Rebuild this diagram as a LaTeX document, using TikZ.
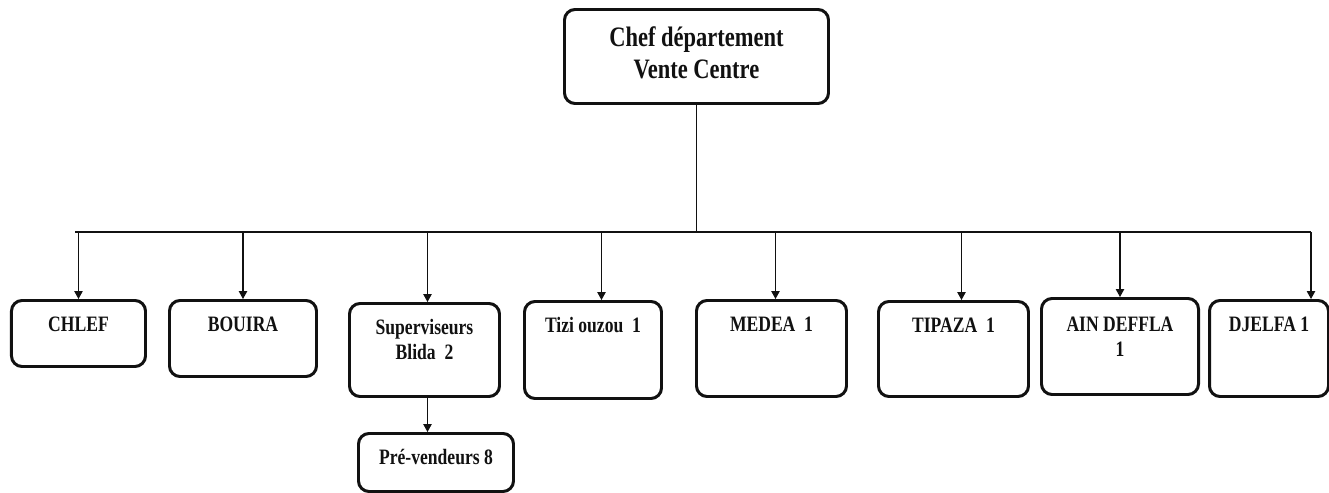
\documentclass[tikz,border=0pt]{standalone}
\usepackage{fontspec}
\setmainfont{Liberation Serif}[FakeStretch=0.8]
\usetikzlibrary{arrows.meta,positioning}
\definecolor{orgInk}{HTML}{111111}
\tikzset{
  every picture/.style={font=\bfseries, text=orgInk},
  org box/.style={draw=orgInk, line width=1.7pt, rounded corners=6pt,
    fill=white, align=center, anchor=north west, inner xsep=2pt,
    inner ysep=0pt, text height=0.62cm},
  org small/.style={org box, font=\bfseries\fontsize{12.5}{14.2}\selectfont},
  org link/.style={draw=orgInk, line width=0.6pt},
  org arrow/.style={org link, -{Triangle[length=1.6mm,width=1.7mm]}}
}

\begin{document}
\begin{tikzpicture}
  \useasboundingbox (0,0) rectangle (26.58,-9.84);
  % head of the department
  \node[org box, font=\bfseries\fontsize{16}{18.2}\selectfont,
    minimum width=5.28cm, text height=1.38cm, text depth=0.50cm]
    (chef) at (11.26,-0.16) {Chef département\\Vente Centre};
  % agencies
  \node[org small, minimum width=2.68cm, text depth=0.70cm] (chlef) at (0.20,-5.98) {CHLEF};
  \node[org small, minimum width=2.94cm, text depth=0.90cm] (bouira) at (3.36,-5.98) {BOUIRA};
  \node[org small, minimum width=3.00cm, text height=1.12cm, text depth=0.74cm] (superv) at (6.96,-6.04) {Superviseurs\\Blida~~2};
  \node[org small, minimum width=3.10cm, text depth=0.54cm] (prevend) at (7.14,-8.64) {Pré-vendeurs 8};
  \node[org small, minimum width=2.74cm, text depth=1.32cm] (tizi) at (10.46,-6.00) {Tizi ouzou~~1};
  \node[org small, minimum width=3.00cm, text depth=1.30cm] (medea) at (13.90,-5.98) {MEDEA~~1};
  \node[org small, minimum width=3.00cm, text depth=1.28cm] (tipaza) at (17.54,-6.00) {TIPAZA~~1};
  \node[org small, minimum width=3.14cm, text height=1.16cm, text depth=0.76cm] (ain) at (20.80,-5.94) {AIN DEFFLA\\1};
  \node[org small, minimum width=2.38cm, text depth=1.30cm] (djelfa) at (24.16,-5.98) {DJELFA 1};
  % bus
  \coordinate (busw) at (1.50,-4.64);
  \coordinate (buse) at (26.22,-4.64);
  \draw[org link] (chef.south) -- (chef.south |- busw);
  \draw[org link] (busw) -- (buse);
  \foreach \n/\s in {chlef/0,bouira/0,superv/0.06,tizi/0.17,medea/0.08,tipaza/0.16,ain/0} {
    \path ([xshift=\s cm]\n.north) coordinate (tip);
    \draw[org arrow] (tip |- busw) -- (tip);
  }
  \draw[org arrow] (buse) -- (buse |- djelfa.north);
  \path ([xshift=0.06cm]superv.south) coordinate (supbot);
  \draw[org arrow] (supbot) -- (supbot |- prevend.north);
\end{tikzpicture}
\end{document}
